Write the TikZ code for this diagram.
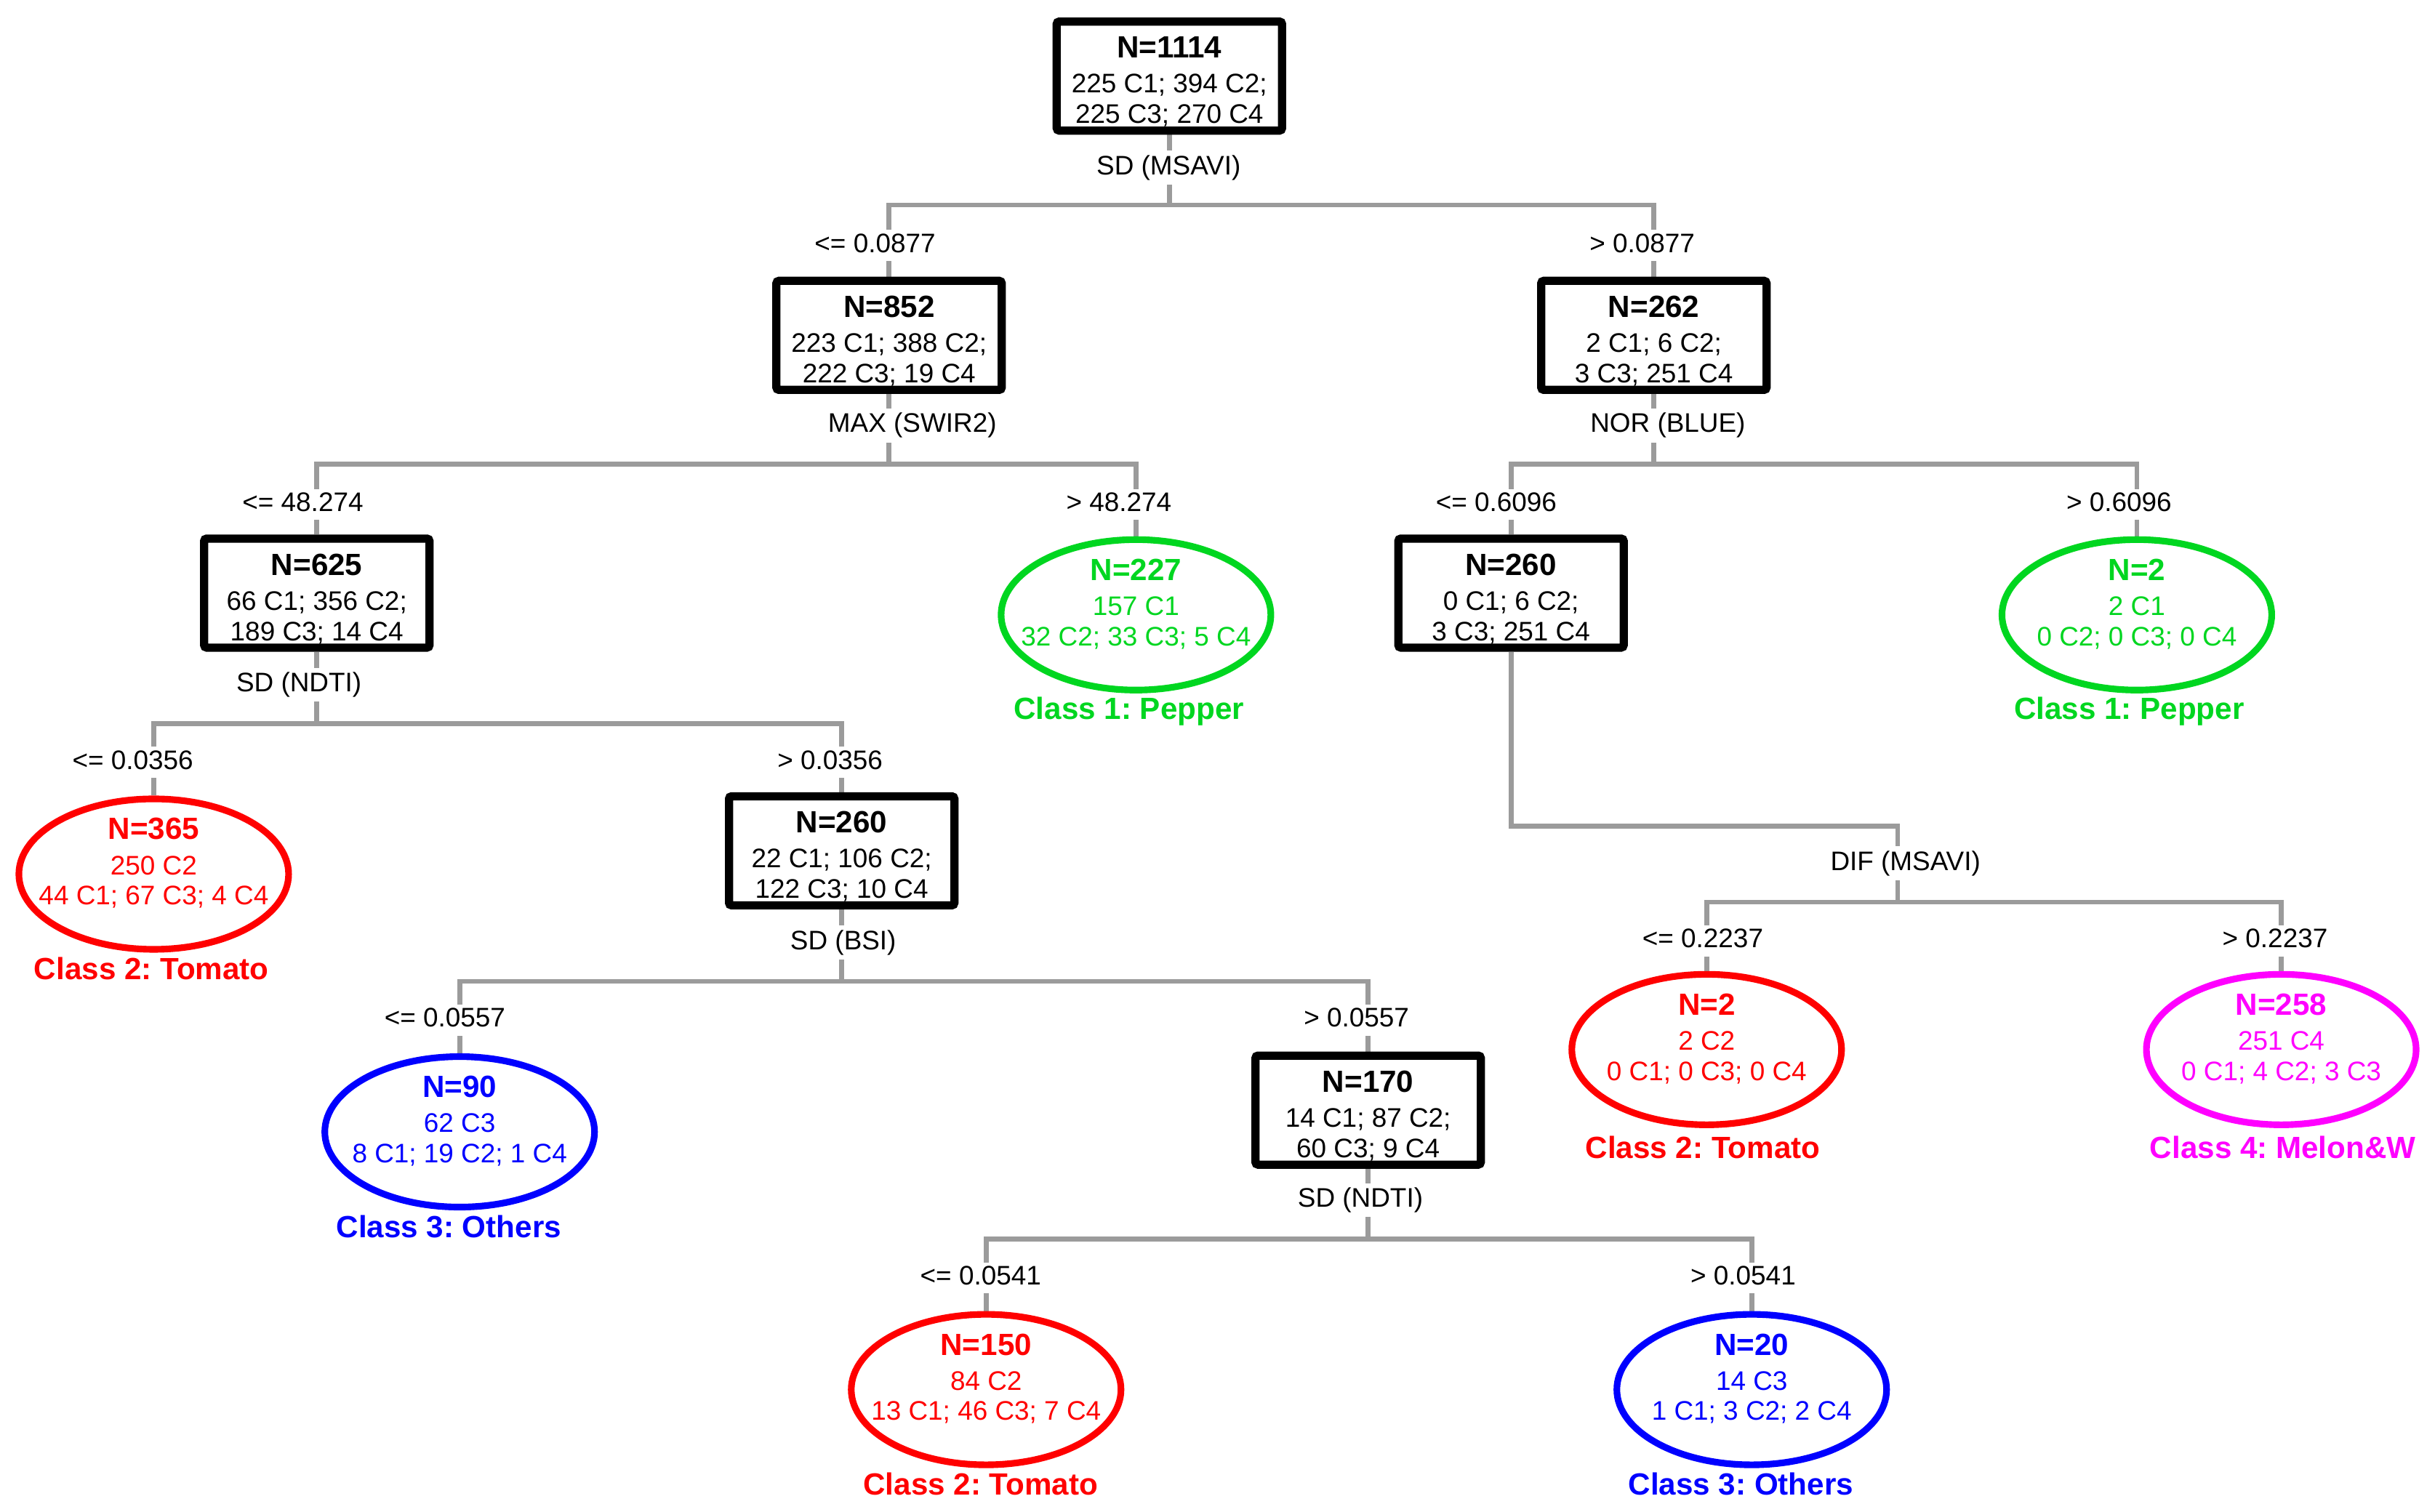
\documentclass[tikz,border=0pt]{standalone}
\usepackage{fontspec}
\setmainfont{Liberation Sans}
\usetikzlibrary{shapes.geometric,backgrounds}

\definecolor{linegray}{RGB}{155,155,155}
\definecolor{pepper}{RGB}{0,214,32}
\definecolor{tomato}{RGB}{255,0,0}
\definecolor{others}{RGB}{0,0,255}
\definecolor{melon}{RGB}{255,0,255}

\newcommand{\nhead}[1]{{\fontsize{12}{12}\selectfont\bfseries #1}}
\newcommand{\bhead}[1]{\nhead{\rule{0pt}{12.8pt}#1}}
\frenchspacing

\begin{document}
\begin{tikzpicture}
[
  x=0.2136mm, y=-0.2136mm,
  font=\fontsize{10.5}{11.9}\selectfont,
  splitbox/.style = {draw, line width=3.2pt, rounded corners=1pt, fill=white, minimum width=3.1cm, minimum height=1.5cm, inner sep=0pt, align=center},
  leafnode/.style = {draw=#1, line width=2.6pt, ellipse, fill=white, minimum width=3.71cm, minimum height=2.07cm, inner sep=0pt},
  leaftext/.style = {text=#1, align=center, inner sep=0pt},
  classlabel/.style = {text=#1, font=\fontsize{12}{12}\selectfont\bfseries, inner sep=0pt},
  varlabel/.style = {fill=white, inner xsep=2pt, inner ysep=1.7pt, text height=7.7pt, text depth=2.2pt},
  cutlabel/.style = {fill=white, inner xsep=2pt, inner ysep=1.1pt, text height=7.7pt, text depth=2.2pt},
  treeline/.style = {draw=linegray, line width=1.9pt},
]
\useasboundingbox (0,0) rectangle (1568,973.4);

% inner nodes
\node (n1114) at (753,49) [splitbox] {\bhead{N=1114}\\[1.8pt]225 C1; 394 C2;\\225 C3; 270 C4};
\node (n852) at (572.5,216) [splitbox] {\bhead{N=852}\\[1.8pt]223 C1; 388 C2;\\222 C3; 19 C4};
\node (n262) at (1065,216) [splitbox] {\bhead{N=262}\\[1.8pt]2 C1; 6 C2;\\3 C3; 251 C4};
\node (n625) at (204,382) [splitbox] {\bhead{N=625}\\[1.8pt]66 C1; 356 C2;\\189 C3; 14 C4};
\node (n260a) at (973,382) [splitbox] {\bhead{N=260}\\[1.8pt]0 C1; 6 C2;\\3 C3; 251 C4};
\node (n260b) at (542,548) [splitbox] {\bhead{N=260}\\[1.8pt]22 C1; 106 C2;\\122 C3; 10 C4};
\node (n170) at (881,715) [splitbox] {\bhead{N=170}\\[1.8pt]14 C1; 87 C2;\\60 C3; 9 C4};

% leaves
\node (n227) at (731.5,396) [leafnode=pepper] {};
\node (n2a) at (1376,396) [leafnode=pepper] {};
\node (n365) at (99,563) [leafnode=tomato] {};
\node (n90) at (296,729) [leafnode=others] {};
\node (n150) at (635,895) [leafnode=tomato] {};
\node (n20) at (1128,895) [leafnode=others] {};
\node (n2b) at (1099,676) [leafnode=tomato] {};
\node (n258) at (1469,676) [leafnode=melon] {};

\node (t227) at (731.5,389) [leaftext=pepper] {\nhead{N=227}\\[1.8pt]157 C1\\32 C2; 33 C3; 5 C4};
\node (t2a) at (1376,389) [leaftext=pepper] {\nhead{N=2}\\[1.8pt]2 C1\\0 C2; 0 C3; 0 C4};
\node (t365) at (99,556) [leaftext=tomato] {\nhead{N=365}\\[1.8pt]250 C2\\44 C1; 67 C3; 4 C4};
\node (t90) at (296,722) [leaftext=others] {\nhead{N=90}\\[1.8pt]62 C3\\8 C1; 19 C2; 1 C4};
\node (t150) at (635,888) [leaftext=tomato] {\nhead{N=150}\\[1.8pt]84 C2\\13 C1; 46 C3; 7 C4};
\node (t20) at (1128,888) [leaftext=others] {\nhead{N=20}\\[1.8pt]14 C3\\1 C1; 3 C2; 2 C4};
\node (t2b) at (1099,669) [leaftext=tomato] {\nhead{N=2}\\[1.8pt]2 C2\\0 C1; 0 C3; 0 C4};
\node (t258) at (1469,669) [leaftext=melon] {\nhead{N=258}\\[1.8pt]251 C4\\0 C1; 4 C2; 3 C3};

\node (c227) at (727,458) [classlabel=pepper] {Class 1: Pepper};
\node (c2a) at (1371,458) [classlabel=pepper] {Class 1: Pepper};
\node (c365) at (97.5,624) [classlabel=tomato] {Class 2: Tomato};
\node (c90) at (289,790) [classlabel=others] {Class 3: Others};
\node (c150) at (631.5,956) [classlabel=tomato] {Class 2: Tomato};
\node (c20) at (1121,956) [classlabel=others] {Class 3: Others};
\node (c2b) at (1096.5,739) [classlabel=tomato] {Class 2: Tomato};
\node (c258) at (1470,739) [classlabel=melon] {Class 4: Melon\&W};

% split variables
\node (v1) at (752.5,108) [varlabel] {SD (MSAVI)};
\node (v2) at (587.5,274) [varlabel] {MAX (SWIR2)};
\node (v3) at (1074,274) [varlabel] {NOR (BLUE)};
\node (v4) at (192.5,441) [varlabel] {SD (NDTI)};
\node (v5) at (543,607) [varlabel] {SD (BSI)};
\node (v6) at (876,773) [varlabel] {SD (NDTI)};
\node (v7) at (1227,556) [varlabel] {DIF (MSAVI)};

% cut points
\node (k1a) at (563.5,158) [cutlabel] {<= 0.0877};
\node (k1b) at (1057.5,158) [cutlabel] {> 0.0877};
\node (k2a) at (195,325) [cutlabel] {<= 48.274};
\node (k2b) at (720.5,325) [cutlabel] {> 48.274};
\node (k3a) at (963.5,325) [cutlabel] {<= 0.6096};
\node (k3b) at (1364.5,325) [cutlabel] {> 0.6096};
\node (k4a) at (85.5,491) [cutlabel] {<= 0.0356};
\node (k4b) at (534.5,491) [cutlabel] {> 0.0356};
\node (k5a) at (286.5,657) [cutlabel] {<= 0.0557};
\node (k5b) at (873.5,657) [cutlabel] {> 0.0557};
\node (k6a) at (631.5,823) [cutlabel] {<= 0.0541};
\node (k6b) at (1122.5,823) [cutlabel] {> 0.0541};
\node (k7a) at (1096.5,606) [cutlabel] {<= 0.2237};
\node (k7b) at (1465,606) [cutlabel] {> 0.2237};

\coordinate (j1) at (753,132);
\coordinate (j2) at (572.5,299);
\coordinate (j3) at (1065,299);
\coordinate (j4) at (204,466);
\coordinate (j5) at (542,632);
\coordinate (j6) at (881,798);
\coordinate (b7) at (1222,532);
\coordinate (j7) at (1222,581);

\begin{pgfonlayer}{background}
\draw[treeline] (n1114) -- (j1);
\draw[treeline] (n852) |- (j1) -| (n262);
\draw[treeline] (n852) -- (j2);
\draw[treeline] (n625) |- (j2) -| (n227);
\draw[treeline] (n262) -- (j3);
\draw[treeline] (n260a) |- (j3) -| (n2a);
\draw[treeline] (n625) -- (j4);
\draw[treeline] (n365) |- (j4) -| (n260b);
\draw[treeline] (n260b) -- (j5);
\draw[treeline] (n90) |- (j5) -| (n170);
\draw[treeline] (n170) -- (j6);
\draw[treeline] (n150) |- (j6) -| (n20);
\draw[treeline] (n260a) |- (b7) -- (j7);
\draw[treeline] (n2b) |- (j7) -| (n258);
\end{pgfonlayer}

\end{tikzpicture}
\end{document}
